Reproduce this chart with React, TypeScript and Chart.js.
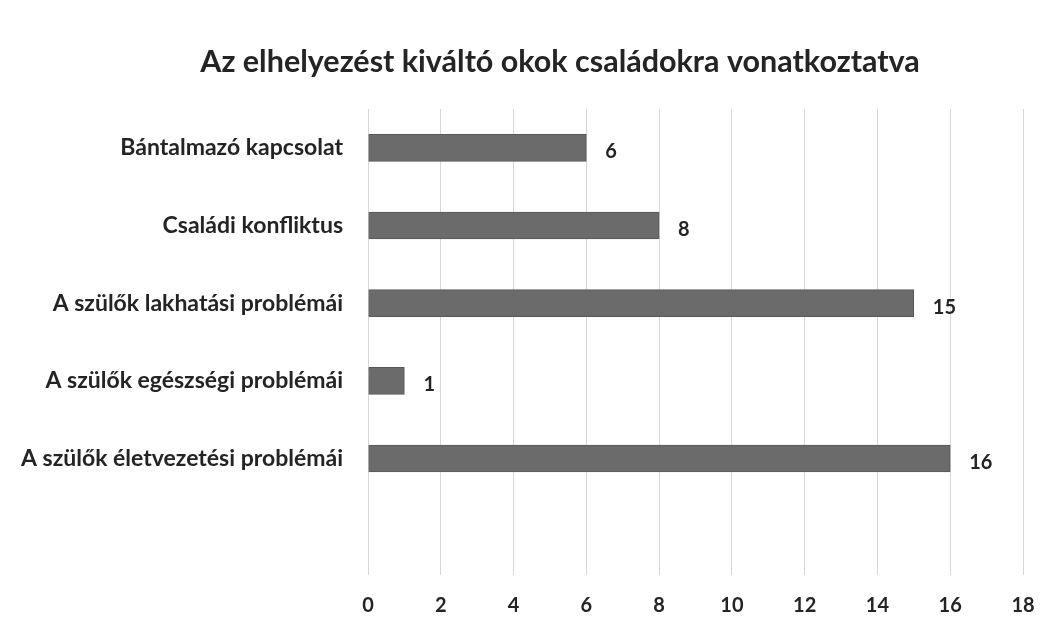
import React, { useEffect, useRef } from "react";
import { Chart, registerables } from "chart.js";

Chart.register(...registerables);

const TITLE = "Az elhelyezést kiváltó okok családokra vonatkoztatva";
const categories = [
  "Bántalmazó kapcsolat",
  "Családi konfliktus",
  "A szülők lakhatási problémái",
  "A szülők egészségi problémái",
  "A szülők életvezetési problémái",
];
const values = [6, 8, 15, 1, 16];
const xMin = 0;
const xMax = 18;
const xStep = 2;

const FONT = "Lato, 'Open Sans', sans-serif";
const TEXT = "#242424";

const valueLabels = {
  id: "valueLabels",
  afterDatasetsDraw(chart: any) {
    const { ctx } = chart;
    const meta = chart.getDatasetMeta(0);
    ctx.save();
    ctx.font = `bold 20px ${FONT}`;
    ctx.fillStyle = TEXT;
    ctx.textAlign = "left";
    ctx.textBaseline = "middle";
    meta.data.forEach((bar: any, i: number) => {
      const v = values[i];
      if (v === undefined) return;
      ctx.fillText(String(v), bar.x + 19, bar.y + 4);
    });
    ctx.restore();
  },
};

const titlePlugin = {
  id: "customTitle",
  afterDraw(chart: any) {
    const { ctx } = chart;
    ctx.save();
    ctx.font = `bold 30.5px ${FONT}`;
    ctx.fillStyle = TEXT;
    ctx.textAlign = "center";
    ctx.textBaseline = "middle";
    ctx.fillText(TITLE, 560, 62);
    ctx.restore();
  },
};

export default function App() {
  const ref = useRef<HTMLCanvasElement>(null);
  useEffect(() => {
    if (!ref.current) return;
    const chart = new Chart(ref.current, {
      type: "bar",
      data: {
        labels: [...categories, ""],
        datasets: [
          {
            data: values,
            backgroundColor: "#6b6b6b",
            borderColor: "#575757",
            borderWidth: 1,
            barThickness: 27,
          },
        ],
      },
      options: {
        indexAxis: "y",
        animation: false,
        responsive: true,
        maintainAspectRatio: false,
        layout: { padding: { top: 109, right: 35, bottom: 0, left: 0 } },
        plugins: {
          legend: { display: false },
          tooltip: { enabled: false },
          title: { display: false },
        },
        scales: {
          x: {
            min: xMin,
            max: xMax,
            ticks: {
              stepSize: xStep,
              color: TEXT,
              font: { family: FONT, size: 20, weight: "bold" },
              padding: 19,
            },
            grid: { color: "#d6d6d6", drawTicks: false, lineWidth: 1 },
            border: { display: false },
            afterFit(scale: any) {
              scale.height = 61;
            },
          },
          y: {
            ticks: {
              color: TEXT,
              font: { family: FONT, size: 23, weight: "bold" },
              padding: 25,
            },
            grid: { display: false, drawTicks: false },
            border: { display: false },
            afterFit(scale: any) {
              scale.width = 368;
            },
          },
        },
      },
      plugins: [valueLabels, titlePlugin],
    });
    return () => chart.destroy();
  }, []);
  return (
    <div style={{ position: "fixed", left: 0, top: 0, width: 1058, height: 636, background: "#fff" }}>
      <canvas ref={ref} />
    </div>
  );
}
